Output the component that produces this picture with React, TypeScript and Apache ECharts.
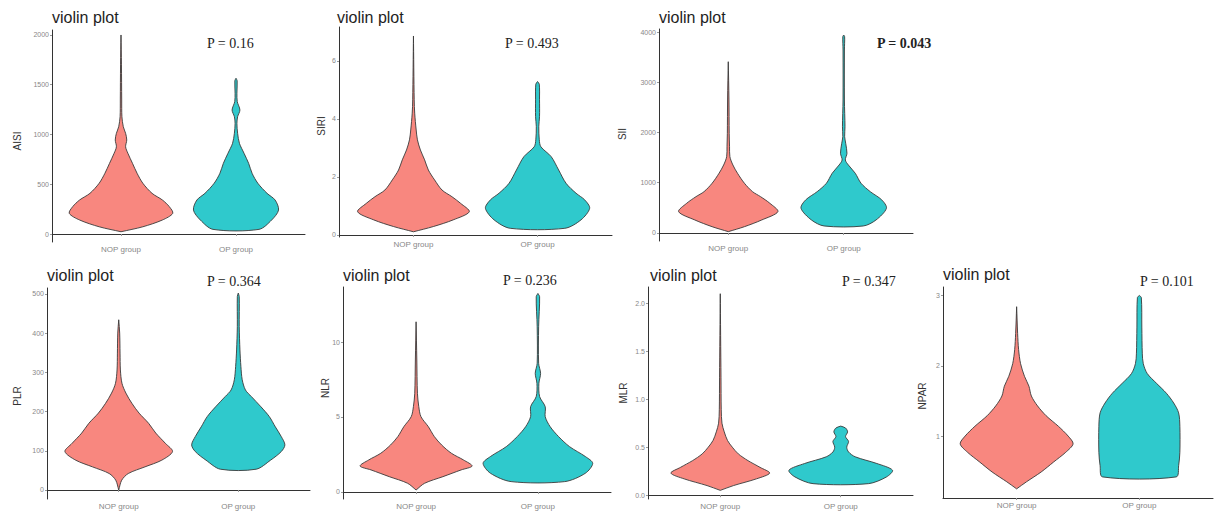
import React, { useEffect, useRef } from "react";
import * as echarts from "echarts";

// ---------- data ----------
const groups = ["NOP group", "OP group"];
const panelNames = ["AISI", "SIRI", "SII", "PLR", "NLR", "MLR", "NPAR"];
const pTexts = ["P = 0.16", "P = 0.493", "P = 0.043", "P = 0.364", "P = 0.236", "P = 0.347", "P = 0.101"];
const pBold = [false, false, true, false, false, false, false];

const yTicksAISI = [0, 500, 1000, 1500, 2000];
const yTicksSIRI = [0, 2, 4, 6];
const yTicksSII = [0, 1000, 2000, 3000, 4000];
const yTicksPLR = [0, 100, 200, 300, 400, 500];
const yTicksNLR = [0, 5, 10];
const yTicksMLR = [0, 0.5, 1, 1.5, 2];
const yTicksNPAR = [1, 2, 3];

// violin outlines: [value, half-width in x-axis (group) units]
const aisiNop = [[23, 0], [73, 0.19], [141, 0.36], [208, 0.45], [275, 0.42], [342, 0.36], [409, 0.27], [510, 0.19], [610, 0.14], [710, 0.1], [811, 0.06], [877, 0.04], [945, 0.05], [1012, 0.04], [1078, 0.02], [1179, 0.008], [1347, 0.006], [1700, 0.004], [2000, 0]];
const aisiOp = [[47, 0.2], [141, 0.31], [241, 0.37], [342, 0.34], [409, 0.27], [510, 0.19], [610, 0.14], [710, 0.11], [811, 0.07], [911, 0.03], [1012, 0.014], [1112, 0.008], [1179, 0.014], [1246, 0.034], [1330, 0.011], [1414, 0.008], [1540, 0.01], [1565, 0]];
const siriNop = [[0.11, 0], [0.29, 0.16], [0.52, 0.32], [0.8, 0.45], [1.09, 0.38], [1.32, 0.31], [1.55, 0.23], [1.9, 0.17], [2.24, 0.12], [2.59, 0.09], [2.93, 0.056], [3.28, 0.032], [3.62, 0.022], [4.2, 0.01], [4.66, 0.006], [6.86, 0]];
const siriOp = [[0.23, 0.22], [0.52, 0.35], [0.92, 0.42], [1.21, 0.38], [1.44, 0.31], [1.78, 0.23], [2.24, 0.17], [2.7, 0.11], [3.04, 0.027], [3.28, 0.014], [3.74, 0.01], [4.08, 0.016], [4.66, 0.016], [5.2, 0.014], [5.29, 0]];
const siiNop = [[26, 0], [125, 0.14], [259, 0.29], [424, 0.43], [591, 0.36], [722, 0.28], [822, 0.21], [989, 0.14], [1188, 0.08], [1353, 0.04], [1518, 0.014], [1717, 0.011], [1984, 0.008], [2647, 0.006], [3409, 0]];
const siiOp = [[139, 0.17], [259, 0.28], [492, 0.37], [657, 0.33], [822, 0.23], [989, 0.15], [1188, 0.1], [1353, 0.04], [1453, 0.014], [1586, 0.028], [1785, 0.017], [1917, 0.008], [2115, 0.011], [2647, 0.006], [3642, 0.006], [3907, 0.008], [3940, 0]];
const plrNop = [[0, 0], [25, 0.025], [42, 0.08], [59, 0.22], [76, 0.36], [98, 0.45], [119, 0.39], [145, 0.31], [170, 0.25], [196, 0.17], [221, 0.11], [247, 0.06], [272, 0.027], [306, 0.014], [349, 0.011], [400, 0.008], [434, 0]];
const plrOp = [[53, 0.15], [76, 0.27], [98, 0.36], [115, 0.39], [136, 0.36], [161, 0.31], [187, 0.26], [212, 0.19], [238, 0.11], [255, 0.06], [281, 0.033], [315, 0.022], [357, 0.014], [417, 0.008], [493, 0.008], [502, 0]];
const nlrNop = [[0.13, 0], [0.58, 0.07], [1.02, 0.22], [1.47, 0.37], [1.73, 0.46], [2.13, 0.39], [2.58, 0.29], [3.13, 0.21], [3.69, 0.15], [4.36, 0.1], [5.02, 0.04], [5.69, 0.022], [6.58, 0.011], [8.8, 0.006], [11.35, 0]];
const nlrOp = [[0.69, 0.22], [1.25, 0.39], [1.91, 0.45], [2.36, 0.39], [3.02, 0.26], [3.69, 0.17], [4.36, 0.1], [5.02, 0.06], [5.69, 0.06], [6.36, 0.014], [7.24, 0.008], [7.91, 0.022], [8.58, 0.006], [11.02, 0.006], [13.02, 0.014], [13.24, 0]];
const mlrNop = [[0.05, 0], [0.1, 0.11], [0.17, 0.3], [0.23, 0.41], [0.29, 0.33], [0.36, 0.23], [0.43, 0.15], [0.5, 0.1], [0.57, 0.06], [0.66, 0.033], [0.75, 0.014], [0.89, 0.008], [1.23, 0.006], [2.1, 0]];
const mlrOp = [[0.12, 0.23], [0.19, 0.38], [0.26, 0.43], [0.33, 0.3], [0.4, 0.12], [0.45, 0.065], [0.5, 0.05], [0.56, 0.065], [0.61, 0.04], [0.66, 0.057], [0.7, 0.04], [0.72, 0]];
const nparNop = [[0.25, 0], [0.35, 0.08], [0.49, 0.2], [0.63, 0.3], [0.77, 0.4], [0.89, 0.46], [1.0, 0.42], [1.14, 0.34], [1.29, 0.24], [1.43, 0.17], [1.57, 0.12], [1.71, 0.1], [1.85, 0.064], [2.03, 0.032], [2.23, 0.016], [2.46, 0.008], [2.84, 0]];
const nparOp = [[0.42, 0.3], [0.58, 0.32], [0.77, 0.33], [1.14, 0.33], [1.33, 0.32], [1.47, 0.28], [1.61, 0.22], [1.75, 0.14], [1.89, 0.064], [2.03, 0.032], [2.17, 0.024], [2.55, 0.02], [2.97, 0.016], [3.0, 0]];

const violins = [
  [aisiNop, aisiOp],
  [siriNop, siriOp],
  [siiNop, siiOp],
  [plrNop, plrOp],
  [nlrNop, nlrOp],
  [mlrNop, mlrOp],
  [nparNop, nparOp],
];
const yTicks = [yTicksAISI, yTicksSIRI, yTicksSII, yTicksPLR, yTicksNLR, yTicksMLR, yTicksNPAR];

// ---------- layout / style ----------
const layout = [
  { left: 52, top: 30, width: 253, height: 212, min: -80, max: 2050, title: [52, 17], p: [207, 43], name: [17, 141] },
  { left: 339, top: 27, width: 273, height: 210, min: -0.07, max: 7.17, title: [337, 17], p: [505, 43], name: [321, 126] },
  { left: 659, top: 29, width: 254, height: 212, min: -160, max: 4060, title: [659, 17], p: [877, 43], name: [622, 134] },
  { left: 47, top: 288, width: 263, height: 211, min: -23, max: 515, title: [47, 275], p: [207, 281], name: [17, 396] },
  { left: 343, top: 287, width: 268, height: 212, min: -0.47, max: 13.67, title: [343, 275], p: [503, 280], name: [325, 388] },
  { left: 648, top: 287, width: 265, height: 212, min: -0.04, max: 2.17, title: [650, 275], p: [842, 281], name: [623, 393] },
  { left: 943, top: 287, width: 270, height: 211, min: 0.12, max: 3.12, title: [943, 274], p: [1140, 281], name: [922, 396] },
];
const fills = ["#F8877F", "#2FC9CC"];
const axisColor = "#333";
const labelColor = "#888";

export default function App() {
  const ref = useRef<HTMLDivElement>(null);
  useEffect(() => {
    if (!ref.current) return;
    const chart = echarts.init(ref.current, undefined, { renderer: "svg" });

    const grid: any[] = [];
    const xAxis: any[] = [];
    const yAxis: any[] = [];
    const series: any[] = [];
    const graphic: any[] = [];

    layout.forEach((L, i) => {
      grid.push({ left: L.left, top: L.top, width: L.width, height: L.height, containLabel: false });
      xAxis.push({
        type: "value",
        gridIndex: i,
        min: 0.4,
        max: 2.6,
        axisLine: { show: true, lineStyle: { color: axisColor, width: 1 } },
        axisTick: { show: true, customValues: [1, 2], length: 2, lineStyle: { color: "#999" } },
        axisLabel: {
          show: true,
          customValues: [1, 2],
          formatter: (v: number) => groups[Math.round(v) - 1] ?? "",
          fontSize: 8,
          color: labelColor,
          margin: 3,
          fontFamily: "Liberation Sans",
        },
        splitLine: { show: false },
      });
      yAxis.push({
        type: "value",
        gridIndex: i,
        min: L.min,
        max: L.max,
        axisLine: { show: true, lineStyle: { color: axisColor, width: 1 } },
        axisTick: { show: true, customValues: yTicks[i], length: 2, lineStyle: { color: "#999" } },
        axisLabel: {
          show: true,
          customValues: yTicks[i],
          formatter: (v: number) => (i === 5 ? v.toFixed(1) : String(v)),
          fontSize: 7,
          color: labelColor,
          margin: 3,
          fontFamily: "Liberation Sans",
        },
        splitLine: { show: false },
      });

      violins[i].forEach((outline, g) => {
        const center = g + 1;
        series.push({
          type: "custom",
          xAxisIndex: i,
          yAxisIndex: i,
          data: [[center, outline[0][0]]],
          silent: true,
          renderItem: (params: any, api: any) => {
            const right = outline.map(([v, hw]) => api.coord([center + hw, v]));
            const left = outline
              .slice()
              .reverse()
              .map(([v, hw]) => api.coord([center - hw, v]));
            return {
              type: "polygon",
              shape: { points: right.concat(left), smooth: 0.3 },
              style: { fill: fills[g], stroke: "#3a3a3a", lineWidth: 0.9 },
            };
          },
        });
      });

      graphic.push({
        type: "text",
        x: L.title[0],
        y: L.title[1],
        style: {
          text: "violin plot",
          fontSize: 16,
          fontFamily: "Liberation Sans",
          fill: "#1e1e1e",
          textVerticalAlign: "middle",
          textAlign: "left",
        },
      });
      graphic.push({
        type: "text",
        x: L.p[0],
        y: L.p[1],
        style: {
          text: pTexts[i],
          fontSize: 14,
          fontFamily: "Liberation Serif",
          fontWeight: pBold[i] ? "bold" : "normal",
          fill: "#222",
          textVerticalAlign: "middle",
          textAlign: "left",
        },
      });
      graphic.push({
        type: "text",
        x: L.name[0],
        y: L.name[1],
        rotation: Math.PI / 2,
        style: {
          text: panelNames[i],
          fontSize: 10,
          fontFamily: "Liberation Sans",
          fill: "#333",
          textVerticalAlign: "middle",
          textAlign: "center",
        },
      });
    });

    chart.setOption({
      animation: false,
      backgroundColor: "#ffffff",
      grid,
      xAxis,
      yAxis,
      series,
      graphic,
    });
    return () => chart.dispose();
  }, []);

  return (
    <div
      ref={ref}
      style={{ position: "fixed", left: 0, top: 0, width: 1216, height: 515 }}
    />
  );
}
